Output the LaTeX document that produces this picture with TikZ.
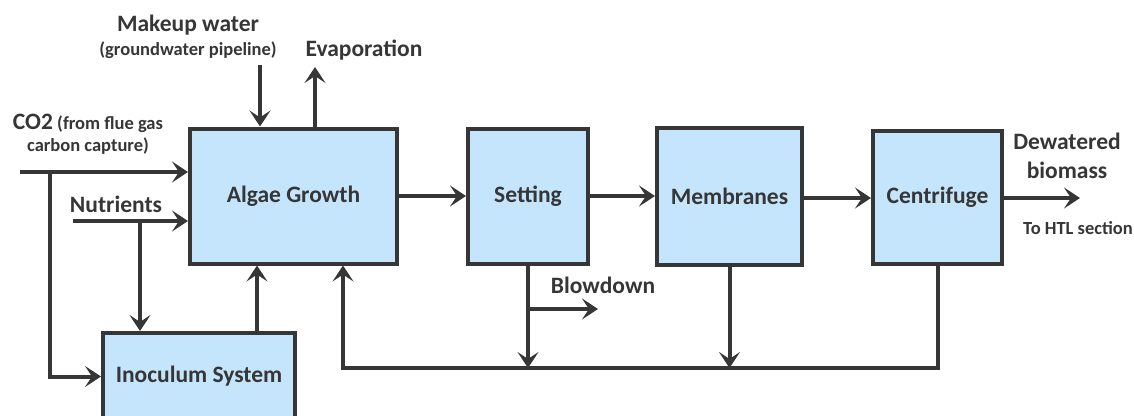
\documentclass[tikz,border=0pt]{standalone}
\usepackage{fontspec}
\setmainfont{Carlito}
\usepackage{xcolor}
\usepackage{tikz}
\usetikzlibrary{arrows.meta, positioning, calc}

\definecolor{ink}{HTML}{363636}
\definecolor{pond}{HTML}{C4E5FC}

\begin{document}
\begin{tikzpicture}[
    x=1pt, y=-1pt,
    every node/.style={text=ink, font=\bfseries},
    unit/.style={rectangle, draw=ink, line width=4pt, fill=pond, align=center, font=\fontsize{23.5}{27}\selectfont\bfseries, inner sep=0pt},
    big/.style={font=\fontsize{23.5}{27}\selectfont\bfseries, inner sep=0pt},
    small/.style={font=\fontsize{18.5}{22}\selectfont\bfseries, inner sep=0pt},
    pipe/.style={draw=ink, line width=4pt},
    flow/.style={pipe, -{Stealth[length=16pt, width=21pt, inset=7pt]}}
]
\clip (0,0) rectangle (1134,415);

% Process units
\node[unit, minimum width=207pt, minimum height=135pt] (algae) at (293.5,196) {Algae Growth};
\node[unit, minimum width=120pt, minimum height=135pt] (setting) at (528,196) {Setting};
\node[unit, minimum width=145pt, minimum height=137pt] (membranes) at (729.5,196) {Membranes};
\node[unit, minimum width=129pt, minimum height=133pt] (centrifuge) at (937.5,197) {Centrifuge};
\node[unit, minimum width=192pt, minimum height=87pt] (inoculum) at (199,376.5) {Inoculum System};

% Stream labels
\node[big] (makeup) at (188,25) {Makeup water};
\node[small] (ground) at (188,50) {(groundwater pipeline)};
\node[big] (evap) at (364,50) {Evaporation};
\node[small, align=center] (co2) at (88,134) {{\fontsize{23.5}{27}\selectfont CO2} (from flue gas\\carbon capture)};
\node[big] (nutrients) at (116,204) {Nutrients};
\node[big] (blowdown) at (603,285) {Blowdown};
\node[big, align=center, font=\fontsize{23.5}{29}\selectfont\bfseries] (dewatered) at (1067,156) {Dewatered\\biomass};
\node[small] (htl) at (1078,228) {To HTL section};

% Free ends and branch points
\coordinate (co2in) at (20,172);
\coordinate (split1) at (50,172);
\coordinate (nutin) at (73,221);
\coordinate (split2) at (140,221);
\coordinate (mkw) at (260,65);
\coordinate (evp) at (315,67);
\coordinate (out) at (1080,198);
\coordinate (bd) at (598,309);
\coordinate (ret) at (343,368);

% Feeds into the growth stage
\draw[flow] (co2in) -- (co2in -| algae.west);
\draw[flow] (split1) |- (inoculum.west);
\draw[flow] (nutin) -- (nutin -| algae.west);
\draw[flow] (split2) -- (split2 |- inoculum.north);
\draw[flow] ([xshift=58pt]inoculum.north) -- ([xshift=58pt]inoculum.north |- algae.south);
\draw[flow] (mkw) -- (mkw |- algae.north);
\draw[flow] (evp |- algae.north) -- (evp);

% Main train
\draw[flow] (algae.east) -- (setting.west);
\draw[flow] (setting.east) -- (setting.east -| membranes.west);
\draw[flow] (membranes.east |- out) -- (centrifuge.west |- out);
\draw[flow] (centrifuge.east |- out) -- (out);

% Water recycle
\draw[flow] (centrifuge.south) |- (ret) -- (ret |- algae.south);
\draw[flow] (setting.south) -- (setting.south |- ret);
\draw[flow] (setting.south |- bd) -- (bd);
\draw[flow] (membranes.south) -- (membranes.south |- ret);

\end{tikzpicture}
\end{document}
